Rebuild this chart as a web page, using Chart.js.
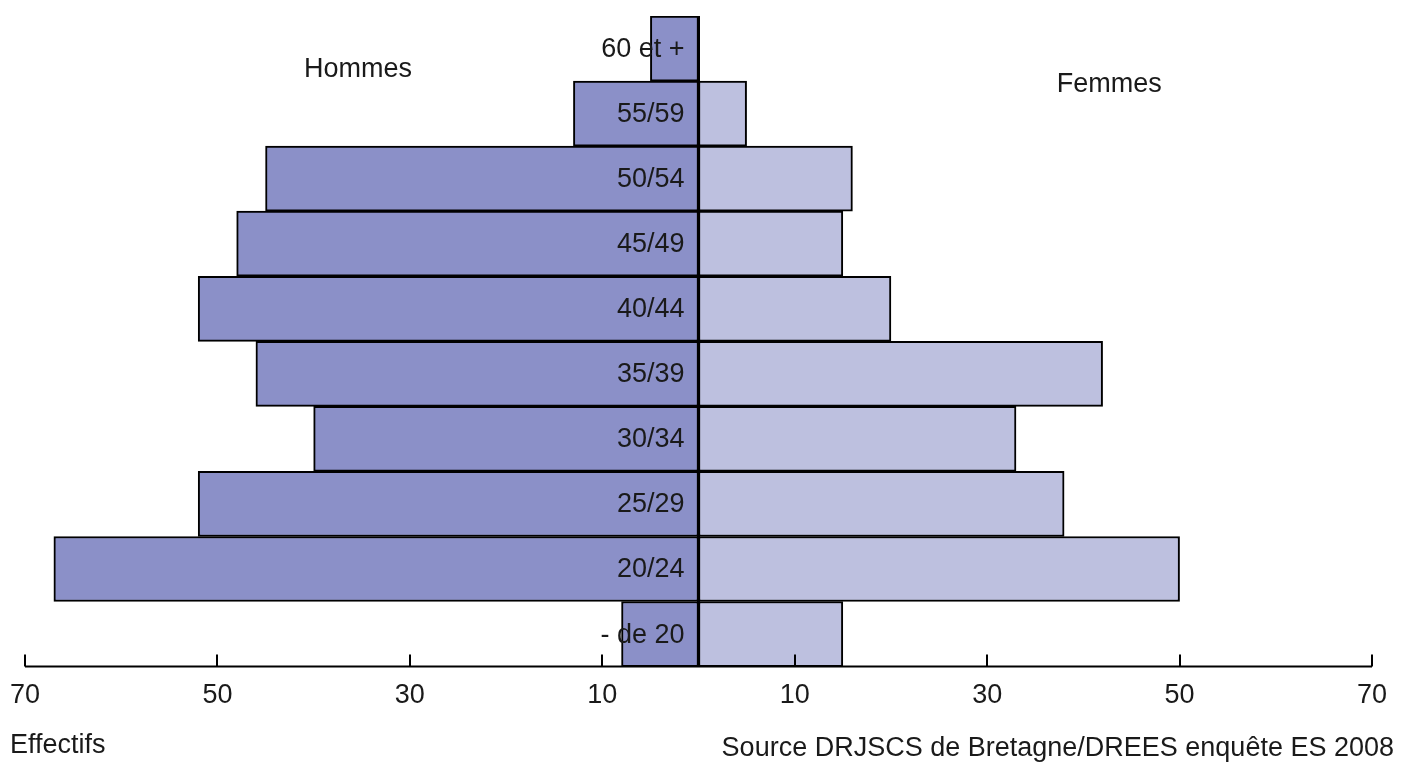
<!DOCTYPE html>
<html>
<head>
<meta charset="utf-8">
<script src="https://cdn.jsdelivr.net/npm/chart.js@4"></script>
<style>
  html, body { margin: 0; padding: 0; background: #fff; }
  #wrap { width: 1411px; height: 763px; position: relative; }
</style>
</head>
<body>
<div id="wrap"><canvas id="pyramide"></canvas></div>
<script>
// tranches d'age, du haut vers le bas
var ages = ['60 et +', '55/59', '50/54', '45/49', '40/44', '35/39', '30/34', '25/29', '20/24', '- de 20'];
var hommes = [5, 13, 45, 48, 52, 46, 40, 52, 67, 8];
var femmes = [0, 5, 16, 15, 20, 42, 33, 38, 50, 15];
var tickValues = [-70, -50, -30, -10, 10, 30, 50, 70];

var FONT = '"Liberation Sans", Arial, sans-serif';

// ticks vers le haut, ligne centrale, libelles
var decor = {
    id: 'decor',
    afterDatasetsDraw: function(chart) {
        var ctx = chart.ctx;
        var xs = chart.scales.x, ys = chart.scales.y;
        var area = chart.chartArea;
        ctx.save();

        // ligne centrale
        var x0 = xs.getPixelForValue(0);
        ctx.strokeStyle = '#000';
        ctx.lineWidth = 3;
        ctx.beginPath();
        ctx.moveTo(x0, area.top);
        ctx.lineTo(x0, area.bottom);
        ctx.stroke();

        // axe + graduations
        ctx.lineWidth = 2;
        ctx.beginPath();
        ctx.moveTo(xs.getPixelForValue(-70), area.bottom);
        ctx.lineTo(xs.getPixelForValue(70), area.bottom);
        tickValues.forEach(function(v) {
            var px = Math.round(xs.getPixelForValue(v));
            ctx.moveTo(px, area.bottom);
            ctx.lineTo(px, area.bottom - 12);
        });
        ctx.stroke();

        // libelles des tranches
        ctx.fillStyle = '#1a1a1a';
        ctx.font = '27px ' + FONT;
        ctx.textAlign = 'right';
        ctx.textBaseline = 'middle';
        ages.forEach(function(a, i) {
            ctx.fillText(a, x0 - 14, ys.getPixelForValue(i) + 1);
        });

        ctx.textAlign = 'center';
        ctx.fillText('Hommes', xs.getPixelForValue(-35.4), 70);
        ctx.fillText('Femmes', xs.getPixelForValue(42.7), 85);

        ctx.textAlign = 'left';
        ctx.fillText('Effectifs', 10, 746);
        ctx.textAlign = 'right';
        ctx.fillText('Source DRJSCS de Bretagne/DREES enquête ES 2008', 1394, 749, 686);
        ctx.restore();
    }
};

var ctx = document.getElementById('pyramide');
new Chart(ctx, {
    type: 'bar',
    data: {
        labels: ages,
        datasets: [{
            label: 'Hommes',
            data: hommes.map(function(v) { return -v; }),
            backgroundColor: '#8b90c8',
            borderColor: '#000',
            borderWidth: 2,
            borderSkipped: false
        }, {
            label: 'Femmes',
            data: femmes,
            backgroundColor: '#bdc0df',
            borderColor: '#000',
            borderWidth: 2,
            borderSkipped: false
        }]
    },
    options: {
        indexAxis: 'y',
        responsive: true,
        maintainAspectRatio: false,
        animation: false,
        barPercentage: 1,
        categoryPercentage: 1,
        layout: { padding: { left: 25, right: 39, top: 16, bottom: 38 } },
        plugins: {
            legend: { display: false },
            tooltip: {
                callbacks: {
                    label: function(c) { return c.dataset.label + ': ' + Math.abs(c.raw); }
                }
            }
        },
        scales: {
            x: {
                stacked: true,
                min: -70,
                max: 70,
                grid: { display: false, drawTicks: false },
                border: { display: false },
                afterBuildTicks: function(scale) {
                    scale.ticks = tickValues.map(function(v) { return { value: v }; });
                },
                afterFit: function(scale) {
                    scale.paddingLeft = 0;
                    scale.paddingRight = 0;
                },
                ticks: {
                    padding: 13,
                    maxRotation: 0,
                    autoSkip: false,
                    color: '#1a1a1a',
                    font: { family: FONT, size: 27 },
                    callback: function(v) { return Math.abs(v); }
                }
            },
            y: {
                stacked: true,
                display: false
            }
        }
    },
    plugins: [decor]
});
</script>
</body>
</html>
